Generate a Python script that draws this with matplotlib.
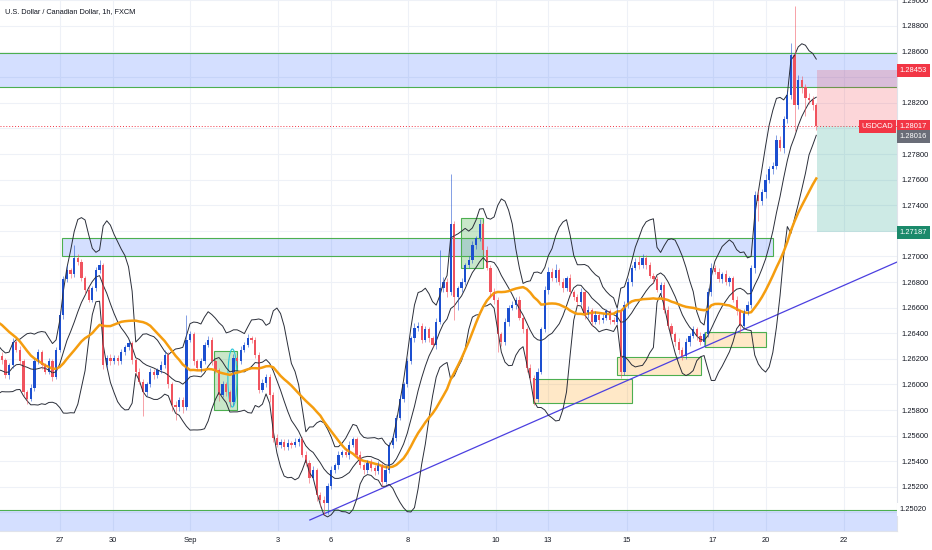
import numpy as np
import pandas as pd
import matplotlib
matplotlib.use("Agg")
import matplotlib.pyplot as plt
from matplotlib.patches import Rectangle, Ellipse

plt.rcParams["font.family"] = ["Liberation Sans", "DejaVu Sans"]

# USDCAD, 2h bars (the 25 warm-up closes sit left of the view, for the averages)
warmup = [1.2668, 1.2675, 1.2682, 1.2690, 1.2685, 1.2692, 1.2688, 1.2680, 1.2684, 1.2676,
          1.2670, 1.2662, 1.2655, 1.2648, 1.2640, 1.2628, 1.2620, 1.2612, 1.2598, 1.2605,
          1.2615, 1.2608, 1.2598, 1.2610, 1.2622]

closes = [1.2619, 1.2607, 1.2615, 1.2633, 1.2627, 1.2618, 1.2594, 1.2589, 1.2597, 1.2618,
          1.2625, 1.2615, 1.2610, 1.2618, 1.2606, 1.2627, 1.2654, 1.2682, 1.2689, 1.2686,
          1.2699, 1.2696, 1.2683, 1.2674, 1.2666, 1.2675, 1.2689, 1.2693, 1.2615, 1.2621,
          1.2618, 1.2621, 1.2618, 1.2625, 1.2629, 1.2632, 1.2619, 1.2610, 1.2602, 1.2594,
          1.2600, 1.2610, 1.2607, 1.2611, 1.2615, 1.2623, 1.2600, 1.2584, 1.2582, 1.2588,
          1.2582, 1.2635, 1.2639, 1.2618, 1.2613, 1.2618, 1.2631, 1.2635, 1.2618, 1.2611,
          1.2592, 1.2600, 1.2594, 1.2586, 1.2621, 1.2618, 1.2627, 1.2631, 1.2636, 1.2635,
          1.2623, 1.2596, 1.2601, 1.2606, 1.2592, 1.2558, 1.2553, 1.2555, 1.2551, 1.2554,
          1.2553, 1.2555, 1.2557, 1.2545, 1.2539, 1.2527, 1.2533, 1.2514, 1.2510, 1.2507,
          1.2521, 1.2533, 1.2537, 1.2545, 1.2547, 1.2545, 1.2553, 1.2557, 1.2545, 1.2537,
          1.2533, 1.2539, 1.2535, 1.2532, 1.2537, 1.2524, 1.2533, 1.2553, 1.2558, 1.2574,
          1.2589, 1.2600, 1.2618, 1.2636, 1.2644, 1.2646, 1.2635, 1.2643, 1.2636, 1.2631,
          1.2649, 1.2675, 1.2680, 1.2672, 1.2725, 1.2668, 1.2675, 1.2680, 1.2693, 1.2697,
          1.2709, 1.2714, 1.2725, 1.2705, 1.2691, 1.2672, 1.2666, 1.2639, 1.2633, 1.2649,
          1.2660, 1.2662, 1.2666, 1.2652, 1.2643, 1.2613, 1.2605, 1.2589, 1.2610, 1.2643,
          1.2674, 1.2688, 1.2683, 1.2689, 1.2680, 1.2675, 1.2683, 1.2672, 1.2668, 1.2664,
          1.2672, 1.2654, 1.2658, 1.2649, 1.2654, 1.2650, 1.2652, 1.2657, 1.2650, 1.2649,
          1.2657, 1.2610, 1.2662, 1.2680, 1.2691, 1.2696, 1.2693, 1.2699, 1.2693, 1.2685,
          1.2682, 1.2674, 1.2678, 1.2658, 1.2646, 1.2639, 1.2633, 1.2627, 1.2622, 1.2633,
          1.2638, 1.2643, 1.2638, 1.2633, 1.2639, 1.2672, 1.2691, 1.2688, 1.2682, 1.2686,
          1.2680, 1.2683, 1.2666, 1.2657, 1.2646, 1.2657, 1.2662, 1.2691, 1.2748, 1.2743,
          1.2750, 1.2760, 1.2768, 1.2771, 1.2791, 1.2785, 1.2807, 1.2826, 1.2857, 1.2818,
          1.2838, 1.2832, 1.2824, 1.2822, 1.2818, 1.28017]

# wick lengths beyond the body, in pips
wick_up = [3, 2, 2, 3, 2, 3, 2, 2, 3, 2,
           3, 2, 2, 3, 2, 2, 3, 3, 4, 2,
           10, 3, 2, 2, 3, 2, 3, 4, 2, 2,
           3, 2, 2, 3, 2, 3, 2, 2, 3, 2,
           2, 3, 2, 2, 3, 4, 2, 2, 3, 2,
           2, 19, 3, 2, 2, 3, 2, 3, 2, 2,
           2, 3, 2, 2, 3, 2, 3, 2, 3, 2,
           2, 2, 3, 2, 2, 2, 3, 2, 2, 3,
           2, 3, 2, 2, 3, 2, 3, 2, 2, 3,
           2, 3, 2, 3, 2, 3, 3, 2, 2, 3,
           2, 2, 3, 2, 3, 2, 3, 2, 3, 2,
           3, 2, 3, 2, 4, 3, 2, 3, 2, 2,
           3, 30, 4, 3, 39, 3, 2, 3, 2, 3,
           3, 2, 4, 2, 3, 2, 3, 2, 2, 3,
           2, 3, 2, 3, 2, 2, 3, 2, 3, 2,
           3, 4, 3, 5, 2, 3, 2, 3, 2, 3,
           3, 2, 3, 2, 3, 2, 3, 2, 2, 3,
           3, 2, 3, 3, 2, 3, 4, 3, 2, 3,
           2, 3, 2, 2, 3, 2, 2, 3, 2, 3,
           2, 3, 2, 3, 2, 3, 4, 2, 3, 2,
           3, 2, 2, 3, 2, 2, 3, 2, 3, 4,
           3, 4, 3, 3, 4, 3, 3, 3, 10, 39,
           4, 3, 3, 4, 3, 2]
wick_dn = [3, 2, 3, 2, 2, 3, 3, 4, 2, 2,
           2, 3, 2, 2, 3, 2, 2, 3, 2, 3,
           2, 3, 2, 3, 2, 2, 2, 2, 3, 2,
           3, 2, 3, 2, 2, 2, 3, 3, 2, 19,
           3, 2, 3, 2, 2, 2, 3, 5, 10, 3,
           4, 2, 2, 3, 2, 3, 2, 2, 3, 2,
           5, 2, 3, 4, 2, 3, 2, 2, 2, 3,
           2, 3, 2, 3, 6, 3, 2, 3, 2, 2,
           3, 2, 3, 2, 3, 4, 2, 5, 6, 9,
           8, 3, 2, 3, 2, 2, 3, 2, 3, 2,
           3, 2, 3, 3, 2, 3, 2, 2, 3, 2,
           2, 3, 2, 2, 3, 2, 3, 2, 3, 2,
           3, 2, 3, 4, 2, 18, 10, 3, 2, 2,
           2, 3, 2, 3, 2, 4, 3, 14, 3, 2,
           3, 2, 3, 2, 3, 3, 2, 5, 3, 2,
           2, 3, 2, 3, 2, 3, 2, 3, 2, 3,
           2, 3, 2, 3, 2, 3, 2, 2, 3, 2,
           2, 5, 3, 2, 3, 2, 3, 2, 3, 2,
           3, 2, 3, 2, 3, 2, 3, 3, 3, 2,
           3, 2, 3, 2, 3, 2, 3, 2, 2, 3,
           2, 3, 2, 3, 6, 2, 3, 2, 4, 15,
           3, 4, 3, 4, 3, 3, 4, 3, 3, 20,
           3, 4, 14, 3, 4, 3]

day_labels = ["27", "30", "Sep", "3", "6", "8", "10", "13", "15", "17", "20", "22"]
day_ticks = [16.1, 30.7, 52.0, 76.3, 90.9, 112.2, 136.5, 150.9, 172.7, 196.5, 211.1, 232.7]

# trade setup (short)
entry, stop, target = 1.28017, 1.28453, 1.27187

UP = "#1c4fd0"
DOWN = "#f0535e"
ZONE_EDGE = "#4caf50"
FS = 5.4

c = np.array(closes)
o = np.r_[warmup[-1], c[:-1]]
pip = 0.0001
hi = np.maximum(o, c) + np.array(wick_up) * pip
lo = np.minimum(o, c) - np.array(wick_dn) * pip
x = np.arange(len(c))
rising = c >= o

allc = pd.Series(warmup + closes)
xa = np.arange(len(allc)) - len(warmup)
basis = allc.rolling(10).mean()
sd = allc.rolling(10).std(ddof=0)
ma = allc.rolling(25).mean()

fig = plt.figure(figsize=(9.32, 5.5), dpi=100)
ax = fig.add_axes([0, 19 / 550, 897 / 932, 531 / 550])
ax.set_xlim(-0.5, 247.3)
ax.set_ylim(1.24855, 1.29003)

# grid; the 1.250 / 1.280 / 1.284 labels sit under the price boxes
yticks = np.arange(1.250, 1.2901, 0.002)
ax.set_yticks(yticks)
ax.set_yticklabels(["" if round(v, 3) in (1.250, 1.280, 1.284) else "%.5f" % v for v in yticks])
ax.set_xticks(day_ticks)
ax.set_xticklabels(day_labels)
ax.grid(color="#eef1f7", lw=0.8)
ax.set_axisbelow(True)
ax.yaxis.tick_right()
ax.tick_params(axis="y", length=0, pad=3, labelsize=FS, labelcolor="#131722")
ax.tick_params(axis="x", length=0, pad=4, labelsize=FS, labelcolor="#131722")
for s in ["top", "left"]:
    ax.spines[s].set_visible(False)
for s in ["right", "bottom"]:
    ax.spines[s].set_color("#e0e3eb")
    ax.spines[s].set_linewidth(0.8)

yt = ax.get_yaxis_transform()

# supply / demand zones (the two outer ones run across the whole chart)
for y0, y1 in [(1.28323, 1.28589), (1.24700, 1.25020)]:
    ax.add_patch(Rectangle((-0.01, y0), 1.02, y1 - y0, transform=yt,
                           fc=(0.16, 0.38, 1, 0.2), ec=ZONE_EDGE, lw=0.8))
ax.add_patch(Rectangle((16.6, 1.27003), 213.0 - 16.6, 1.27144 - 1.27003,
                       fc=(0.16, 0.38, 1, 0.2), ec=ZONE_EDGE, lw=0.8))
for x0, x1, y0, y1 in [(146.7, 174.1, 1.25855, 1.26042),
                       (169.9, 193.1, 1.26073, 1.26214),
                       (194.3, 211.1, 1.26292, 1.26409)]:
    ax.add_patch(Rectangle((x0, y0), x1 - x0, y1 - y0,
                           fc=(1, 0.6, 0, 0.22), ec=ZONE_EDGE, lw=0.8))
for x0, x1, y0, y1 in [(58.6, 65.0, 1.25800, 1.26261),
                       (126.8, 132.9, 1.26909, 1.27300)]:
    ax.add_patch(Rectangle((x0, y0), x1 - x0, y1 - y0,
                           fc=(0.3, 0.69, 0.31, 0.3), ec=ZONE_EDGE, lw=0.8))
ax.add_patch(Ellipse((63.7, 1.2605), 2.5, 0.00453, fc="none", ec="#26c6da", lw=0.8))

# position tool
ax.add_patch(Rectangle((225.2, entry), 247.3 - 225.2, stop - entry,
                       fc=(0.95, 0.21, 0.27, 0.2), lw=0))
ax.add_patch(Rectangle((225.2, target), 247.3 - 225.2, entry - target,
                       fc=(0.03, 0.6, 0.5, 0.2), lw=0))
ax.axhline(entry, color="#f23645", lw=0.7, ls=(0, (1, 2)))

# trend line
ax.plot([85.1, 247.3], [1.24941, 1.26956], color="#4b3fe0", lw=0.9)

# bollinger bands + moving average
ax.plot(xa, basis + 2 * sd, color="#2a2e39", lw=0.7)
ax.plot(xa, basis, color="#2a2e39", lw=0.7)
ax.plot(xa, basis - 2 * sd, color="#2a2e39", lw=0.7)
ax.plot(xa, ma, color="#f59d0f", lw=1.8)

# candles
body = np.maximum(np.abs(c - o), 0.00004)
for m, col in [(rising, UP), (~rising, DOWN)]:
    ax.vlines(x[m], lo[m], hi[m], color=col, lw=0.7, alpha=0.55)
    ax.bar(x[m], body[m], bottom=np.minimum(o, c)[m], width=0.62, color=col, lw=0)

# price scale labels
box = dict(boxstyle="square,pad=0.4", ec="none")
lab = dict(transform=yt, ha="left", va="center", color="white", fontsize=FS, clip_on=False)
ax.text(1.003, stop, "1.28453", bbox=dict(box, fc="#f23645"), **lab)
ax.text(1.003, entry, "1.28017", bbox=dict(box, fc="#f23645"), **lab)
ax.annotate("1.28016", (1.003, entry), xycoords=yt, xytext=(0, -7.5), textcoords="offset points",
            ha="left", va="center", color="white", fontsize=FS, annotation_clip=False,
            bbox=dict(box, fc="#6a6d78"))
ax.text(1.003, target, "1.27187", bbox=dict(box, fc="#1b8a6b"), **lab)
ax.text(1.003, 1.25020, "1.25020", transform=yt, ha="left", va="center", color="#131722",
        fontsize=FS, clip_on=False, bbox=dict(box, fc="white"))
ax.text(0.996, entry, "USDCAD", transform=yt, ha="right", va="center", color="white",
        fontsize=FS, bbox=dict(box, fc="#f23645"))

fig.text(5 / 932, 1 - 12 / 550, "U.S. Dollar / Canadian Dollar, 1h, FXCM",
         fontsize=5.3, color="#131722", va="center")

fig.savefig("out.png", dpi=100)
